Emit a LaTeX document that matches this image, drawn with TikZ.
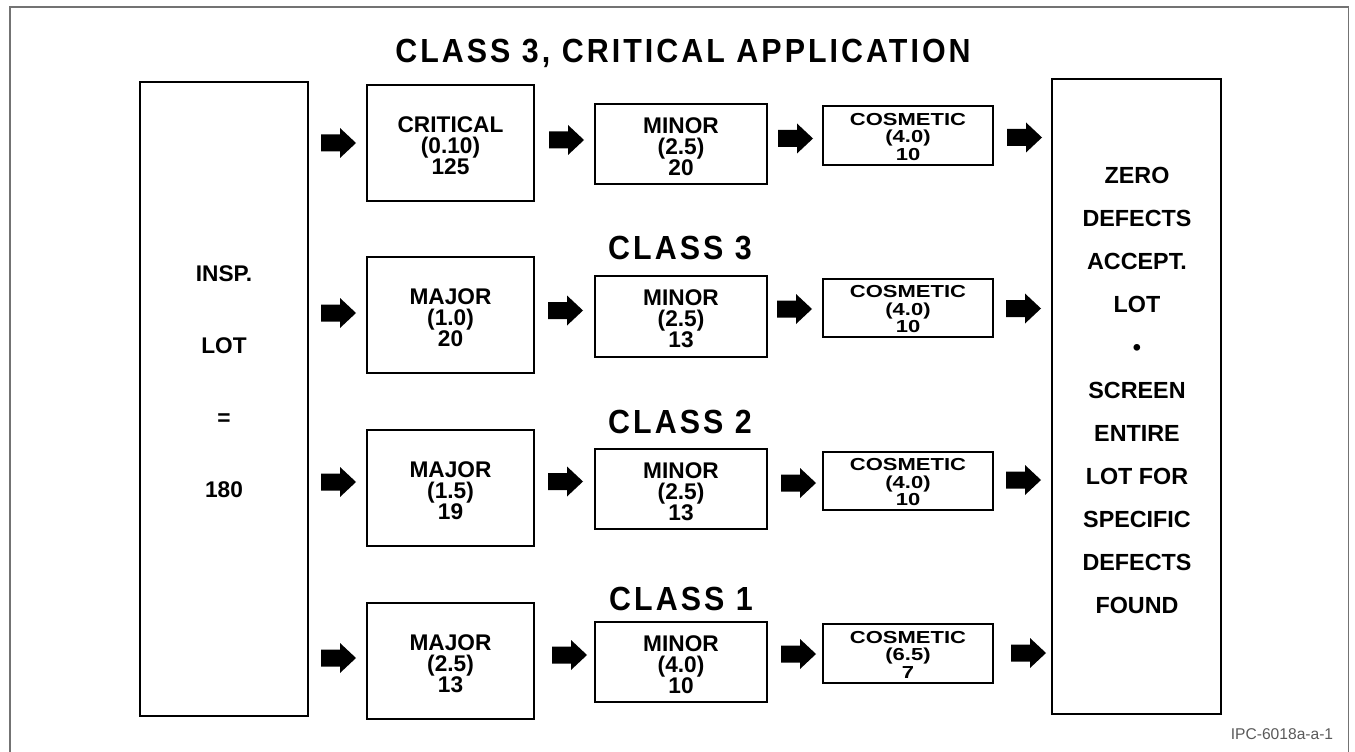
\documentclass[tikz,border=0pt]{standalone}
\usepackage{graphicx}
\usepackage{fontspec}
\setmainfont{Liberation Sans}
\newfontfamily\titlefont{Liberation Sans}[LetterSpace=10]
\newcommand{\bx}[7][box]{\node[#1, minimum width={(#5-#3)*0.75pt}, minimum height={(#6-#4)*0.75pt}] (#2) at ({(#3+#5)/2},{(#4+#6)/2}) {#7};}
\newcommand{\costext}[2]{\raisebox{-2.8pt}[\height][\depth]{\scalebox{1}[0.79]{\begin{tabular}{@{}c@{}}COSMETIC\\(#1)\\#2\end{tabular}}}}
\newcommand{\cls}[1]{\scalebox{1}[1.1]{#1}}
\begin{document}
\begin{tikzpicture}[x=0.75pt,y=-0.75pt,
  box/.style={draw, line width=1.5pt, inner sep=0pt, align=center, text height=47pt,
    font=\bfseries\fontsize{17pt}{15.75pt}\selectfont},
  plainbox/.style={draw, line width=1.5pt, inner sep=0pt},
  cosbox/.style={draw, line width=1.5pt, inner sep=0pt, align=center,
    font=\bfseries\fontsize{16.5pt}{16.6pt}\selectfont},
  lottext/.style={align=center, inner sep=0pt, font=\bfseries\fontsize{17pt}{54pt}\selectfont},
  restext/.style={align=center, inner sep=0pt, font=\bfseries\fontsize{17.5pt}{32.3pt}\selectfont},
  classlbl/.style={anchor=base, inner sep=0pt, font=\titlefont\bfseries\fontsize{22.8pt}{22.8pt}\selectfont},
  frameline/.style={draw=black!55, line width=1.1pt},
  blockarrow/.pic={\fill[black] (-17.5,-8.5) -- (1.5,-8.5) -- (1.5,-15) -- (17.5,0) -- (1.5,15) -- (1.5,8.5) -- (-17.5,8.5) -- cycle;}
]
\useasboundingbox (0,0) rectangle (1355,752);
% frame (open at bottom)
\draw[frameline] (10,752) -- (10,7) -- (1348.5,7) -- (1348.5,752);

% title and class labels
\node[classlbl] (title) at (683,63) {\cls{CLASS 3, CRITICAL APPLICATION}};
\node[classlbl] (c3) at (680,259) {\cls{CLASS 3}};
\node[classlbl] (c2) at (680,433) {\cls{CLASS 2}};
\node[classlbl] (c1) at (681,610) {\cls{CLASS 1}};

% lot box and result box
\bx[plainbox]{lot}{140}{82}{308}{716}{}
\node[lottext] (lottxt) at (224,381.5) {INSP.\\LOT\\=\\180};
\bx[plainbox]{result}{1052}{79}{1221}{714}{}
\node[restext] (restxt) at (1137,390.5) {ZERO\\DEFECTS\\ACCEPT.\\LOT\\\textbullet\\SCREEN\\ENTIRE\\LOT FOR\\SPECIFIC\\DEFECTS\\FOUND};

% row 1
\bx{r1a}{367}{85}{534}{201}{CRITICAL\\(0.10)\\125}
\bx{r1b}{595}{104}{767}{184}{MINOR\\(2.5)\\20}
\bx[cosbox]{r1c}{823}{106}{993}{165}{\costext{4.0}{10}}
% row 2
\bx{r2a}{367}{257}{534}{373}{MAJOR\\(1.0)\\20}
\bx{r2b}{595}{276}{767}{357}{MINOR\\(2.5)\\13}
\bx[cosbox]{r2c}{823}{279}{993}{337}{\costext{4.0}{10}}
% row 3
\bx{r3a}{367}{430}{534}{546}{MAJOR\\(1.5)\\19}
\bx{r3b}{595}{449}{767}{529}{MINOR\\(2.5)\\13}
\bx[cosbox]{r3c}{823}{452}{993}{510}{\costext{4.0}{10}}
% row 4
\bx{r4a}{367}{603}{534}{719}{MAJOR\\(2.5)\\13}
\bx{r4b}{595}{622}{767}{702}{MINOR\\(4.0)\\10}
\bx[cosbox]{r4c}{823}{624}{993}{683}{\costext{6.5}{7}}

% block arrows
\pic at (338.5,143) {blockarrow};
\pic at (566.5,140) {blockarrow};
\pic at (795.5,138.5) {blockarrow};
\pic at (1024.5,137.5) {blockarrow};
\pic at (338.5,313) {blockarrow};
\pic at (565.5,310.5) {blockarrow};
\pic at (794.5,309) {blockarrow};
\pic at (1023.5,308.5) {blockarrow};
\pic at (338.5,482) {blockarrow};
\pic at (565.5,481.5) {blockarrow};
\pic at (798.5,483) {blockarrow};
\pic at (1023.5,480) {blockarrow};
\pic at (338.5,658) {blockarrow};
\pic at (569.5,655) {blockarrow};
\pic at (798.5,654) {blockarrow};
\pic at (1028.5,653) {blockarrow};

% figure id
\node[anchor=base, inner sep=0pt, text=black!65, font=\fontsize{11.7pt}{12pt}\selectfont] (ipc) at (1282,739.5) {IPC-6018a-a-1};
\end{tikzpicture}
\end{document}
